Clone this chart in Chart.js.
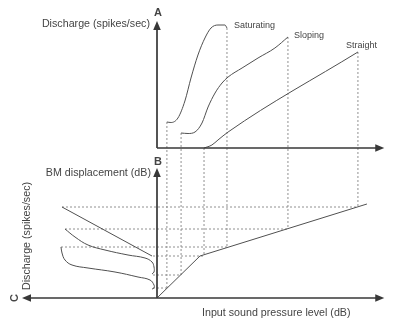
<!DOCTYPE html>
<html>
<head>
<meta charset="utf-8">
<script src="https://cdn.jsdelivr.net/npm/chart.js@4.4.0/dist/chart.umd.min.js"></script>
<style>
html,body{margin:0;padding:0;background:#fff;}
</style>
</head>
<body>
<canvas id="fibreChart" width="400" height="325"></canvas>
<script>
// panel A: rate-level functions (input level dB -> discharge spikes/s)
const satLevel = [4.4, 6.2, 9.3, 12.4, 15.1, 18.2, 21.3, 24, 27.1, 30.2, 31.1];
const satRate  = [52, 51, 60, 94, 140, 186, 220, 240, 246, 246, 240];
const slpLevel = [10.7, 13.8, 16.9, 20, 22.7, 25.8, 28.9, 31.6, 37.8, 44.9, 52.4, 58.2];
const slpRate  = [30, 29, 32, 50, 82, 110, 130, 142, 160, 180, 200, 222];
const strLevel = [20.9, 24.4, 27.1, 31.6, 89.3];
const strRate  = [0, 6, 16, 32, 192];

// panel B: basilar membrane input-output (input dB -> BM dB)
const bmInput = [0, 19.1, 93.3];
const bmOut   = [0, 16.8, 37.6];

// panel C: discharge vs BM displacement
const strCRate = [190, 10];
const strCBm   = [36.4, 16.8];
const slpCRate = [184, 164, 138, 104, 58, 24, 10, 6, 6, 10];
const slpCBm   = [27.6, 24.4, 21.2, 19.2, 17.2, 16, 14.4, 12.4, 10.4, 9.6];
const satCRate = [192, 190, 184, 170, 138, 84, 38, 14, 6, 6, 10];
const satCBm   = [20.4, 18, 15.2, 13.2, 12, 10.4, 8.4, 7.2, 5.2, 4, 3.6];

// projection guides (saturating, sloping, straight)
const fibreNames = ['Saturating', 'Sloping', 'Straight'];
const thrLevel = [4.4, 10.7, 20.9];
const thrRate  = [52, 30, 0];
const thrBm    = [4, 9.2, 16.8];
const endLevel = [31.1, 58.2, 89.3];
const endRate  = [240, 222, 192];
const endBm    = [20.4, 27.6, 36.4];
const endCRate = [192, 184, 190];
const lowCRate = 8;

// axis extents
const axisATop = 254, axisBTop = 52, axisRight = 101, axisCLeft = 270;

function pts(xs, ys) { return xs.map((v, i) => ({x: v, y: ys[i]})); }

function line(data, xAxis, yAxis, tension, mono) {
  return {
    data: data, xAxisID: xAxis, yAxisID: yAxis,
    showLine: true, pointRadius: 0, borderColor: '#505050', borderWidth: 1,
    tension: tension, cubicInterpolationMode: mono ? 'monotone' : 'default',
    fill: false, clip: false
  };
}

function arrow(ctx, x, y, ang) {
  ctx.save();
  ctx.translate(x, y);
  ctx.rotate(ang);
  ctx.beginPath();
  ctx.moveTo(0, 0);
  ctx.lineTo(-9, -3.8);
  ctx.lineTo(-9, 3.8);
  ctx.closePath();
  ctx.fill();
  ctx.restore();
}

const drawing = {
  id: 'drawing',
  beforeDatasetsDraw(chart) {
    const ctx = chart.ctx, s = chart.scales;
    ctx.save();
    ctx.strokeStyle = '#909090';
    ctx.lineWidth = 1;
    ctx.setLineDash([2, 2]);
    ctx.beginPath();
    for (let i = 0; i < 3; i++) {
      // verticals from rate-level curve down to BM line
      ctx.moveTo(s.x.getPixelForValue(thrLevel[i]), s.yA.getPixelForValue(thrRate[i]));
      ctx.lineTo(s.x.getPixelForValue(thrLevel[i]), s.yB.getPixelForValue(thrBm[i]));
      ctx.moveTo(s.x.getPixelForValue(endLevel[i]), s.yA.getPixelForValue(endRate[i]));
      ctx.lineTo(s.x.getPixelForValue(endLevel[i]), s.yB.getPixelForValue(endBm[i]));
      // horizontals across to panel C
      ctx.moveTo(s.xC.getPixelForValue(endCRate[i]), s.yB.getPixelForValue(endBm[i]));
      ctx.lineTo(s.x.getPixelForValue(endLevel[i]), s.yB.getPixelForValue(endBm[i]));
      ctx.moveTo(s.xC.getPixelForValue(lowCRate), s.yB.getPixelForValue(thrBm[i]));
      ctx.lineTo(s.x.getPixelForValue(thrLevel[i]), s.yB.getPixelForValue(thrBm[i]));
    }
    ctx.stroke();
    ctx.restore();
  },
  afterDatasetsDraw(chart) {
    const ctx = chart.ctx, s = chart.scales;
    const x0 = s.x.getPixelForValue(0);
    const yA0 = s.yA.getPixelForValue(0), yB0 = s.yB.getPixelForValue(0);
    const yATop = s.yA.getPixelForValue(axisATop), yBTop = s.yB.getPixelForValue(axisBTop);
    const xR = s.x.getPixelForValue(axisRight), xL = s.xC.getPixelForValue(axisCLeft);
    ctx.save();
    ctx.strokeStyle = '#383838';
    ctx.fillStyle = '#383838';
    ctx.lineWidth = 1.7;
    ctx.beginPath();
    ctx.moveTo(x0, yA0); ctx.lineTo(x0, yATop + 6);
    ctx.moveTo(x0, yA0); ctx.lineTo(xR - 6, yA0);
    ctx.moveTo(x0, yB0); ctx.lineTo(x0, yBTop + 6);
    ctx.moveTo(xL + 6, yB0); ctx.lineTo(xR - 6, yB0);
    ctx.stroke();
    arrow(ctx, x0, yATop, -Math.PI / 2);
    arrow(ctx, xR, yA0, 0);
    arrow(ctx, x0, yBTop, -Math.PI / 2);
    arrow(ctx, xR, yB0, 0);
    arrow(ctx, xL, yB0, Math.PI);

    ctx.fillStyle = '#444';
    ctx.textBaseline = 'middle';
    ctx.font = 'bold 11px "Liberation Sans", Arial, sans-serif';
    ctx.textAlign = 'center';
    ctx.fillText('A', x0 + 1, yATop - 8);
    ctx.fillText('B', x0 + 1, yBTop - 6);
    ctx.save();
    ctx.translate(15, yB0);
    ctx.rotate(-Math.PI / 2);
    ctx.fillText('C', 0, 0);
    ctx.restore();

    ctx.font = '10.7px "Liberation Sans", Arial, sans-serif';
    ctx.textAlign = 'right';
    ctx.fillText('Discharge (spikes/sec)', x0 - 7, yATop + 3);
    ctx.fillText('BM displacement (dB)', x0 - 6, yBTop + 5);
    ctx.textAlign = 'left';
    ctx.fillText('Input sound pressure level (dB)', s.x.getPixelForValue(20), yB0 + 15);
    ctx.save();
    ctx.translate(27, (yBTop + yB0) / 2 + 3);
    ctx.rotate(-Math.PI / 2);
    ctx.textAlign = 'center';
    ctx.fillText('Discharge (spikes/sec)', 0, 0);
    ctx.restore();

    ctx.font = '9px "Liberation Sans", Arial, sans-serif';
    const lx = [7, 6, -12], ly = [-2, -1, -6];
    for (let i = 0; i < 3; i++) {
      ctx.fillText(fibreNames[i], s.x.getPixelForValue(endLevel[i]) + lx[i],
        s.yA.getPixelForValue(endRate[i]) + ly[i]);
    }
    ctx.restore();
  }
};

new Chart('fibreChart', {
  type: 'scatter',
  data: {
    datasets: [
      line(pts(satLevel, satRate), 'x', 'yA', 0.4, true),
      line(pts(slpLevel, slpRate), 'x', 'yA', 0.4, true),
      line(pts(strLevel, strRate), 'x', 'yA', 0.4, true),
      line(pts(bmInput, bmOut), 'x', 'yB', 0, false),
      line(pts(strCRate, strCBm), 'xC', 'yB', 0, false),
      line(pts(slpCRate, slpCBm), 'xC', 'yB', 0.4, false),
      line(pts(satCRate, satCBm), 'xC', 'yB', 0.4, false)
    ]
  },
  options: {
    responsive: false,
    animation: false,
    layout: { padding: { left: 22, right: 18, top: 23, bottom: 27 } },
    plugins: { legend: { display: false }, tooltip: { enabled: false } },
    scales: {
      x:  { type: 'linear', min: -60, max: 100, display: false },
      xC: { type: 'linear', min: -450, max: 270, reverse: true, display: false },
      yA: { type: 'linear', min: -300, max: 250, display: false },
      yB: { type: 'linear', min: 0, max: 110, display: false }
    }
  },
  plugins: [drawing]
});
</script>
</body>
</html>
